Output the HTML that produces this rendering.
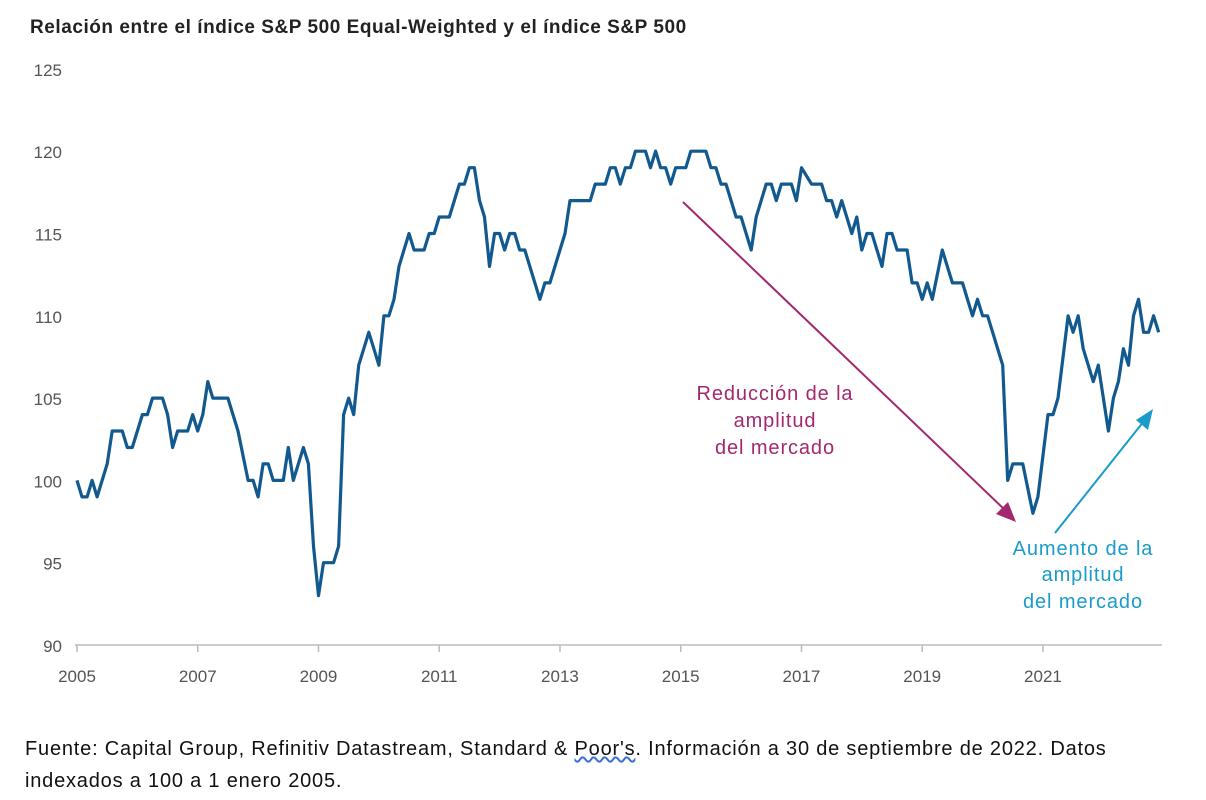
<!DOCTYPE html>
<html><head><meta charset="utf-8"><style>
body{margin:0;background:#fff;width:1206px;height:800px;overflow:hidden;font-family:"Liberation Sans",sans-serif}
.t{position:absolute}
</style></head><body>
<div class="t" style="left:30px;top:17px;font-size:19px;letter-spacing:0.55px;font-weight:bold;color:#222">Relación entre el índice S&amp;P 500 Equal-Weighted y el índice S&amp;P 500</div>
<svg class="t" style="left:0;top:0" width="1206" height="720">
<g id="axes"></g>
<path id="line" fill="none" stroke="#12598f" stroke-width="3.2" stroke-linejoin="round"/>
<g font-size="20" letter-spacing="0.9">
<line x1="683" y1="202" x2="1005" y2="510" stroke="#a3286e" stroke-width="2"/>
<polygon points="1016,522 996,514 1008,502" fill="#a3286e"/>
<text x="775" y="400" text-anchor="middle" fill="#a3286e">Reducción de la</text>
<text x="775" y="427" text-anchor="middle" fill="#a3286e">amplitud</text>
<text x="775" y="454" text-anchor="middle" fill="#a3286e">del mercado</text>
</g>
<g font-size="20" letter-spacing="0.9">
<line x1="1055" y1="533" x2="1144" y2="421" stroke="#1a9bc9" stroke-width="2"/>
<polygon points="1153,409 1148,430 1136,420" fill="#1a9bc9"/>
<text x="1083" y="555" text-anchor="middle" fill="#1a9bc9">Aumento de la</text>
<text x="1083" y="581" text-anchor="middle" fill="#1a9bc9">amplitud</text>
<text x="1083" y="608" text-anchor="middle" fill="#1a9bc9">del mercado</text>
</g>
</svg>
<div class="t" style="left:25px;top:733px;font-size:20px;letter-spacing:0.8px;color:#111;line-height:32px;white-space:nowrap">Fuente: Capital Group, Refinitiv Datastream, Standard &amp; <span style="text-decoration:underline wavy #3b6fd6">Poor's</span>. Información a 30 de septiembre de 2022. Datos<br>indexados a 100 a 1 enero 2005.</div>
<script>
const months=[0,1,2,3,4,6,7,9,10,11,13,14,15,17,18,19,20,22,23,24,25,26,27,30,32,34,35,36,37,38,39,41,42,43,45,46,47,48,49,51,52,53,54,55,56,57,58,60,61,62,63,64,66,67,69,70,71,72,74,76,77,78,79,80,81,82,83,84,85,86,87,88,89,92,93,94,97,98,102,103,105,106,107,108,109,110,111,113,114,115,116,117,118,119,121,122,125,126,127,128,129,131,132,134,135,137,138,139,140,142,143,144,146,148,149,150,151,152,154,155,156,157,158,160,161,162,163,165,166,167,168,169,170,172,174,176,178,179,180,181,184,185,186,188,190,191,193,194,195,197,198,199,200,202,203,205,206,207,208,209,210,211,212,213,214,215];
const values=[100,99,99,100,99,101,103,103,102,102,104,104,105,105,104,102,103,103,104,103,104,106,105,105,103,100,100,99,101,101,100,100,102,100,102,101,96,93,95,95,96,104,105,104,107,108,109,107,110,110,111,113,115,114,114,115,115,116,116,118,118,119,119,117,116,113,115,115,114,115,115,114,114,111,112,112,115,117,117,118,118,119,119,118,119,119,120,120,119,120,119,119,118,119,119,120,120,119,119,118,118,116,116,114,116,118,118,117,118,118,117,119,118,118,117,117,116,117,115,116,114,115,115,113,115,115,114,114,112,112,111,112,111,114,112,112,110,111,110,110,107,100,101,101,98,99,104,104,105,110,109,110,108,106,107,103,105,106,108,107,110,111,109,109,110,109];
const yTicks=[90,95,100,105,110,115,120,125];
const xTicks=[2005,2007,2009,2011,2013,2015,2017,2019,2021];
const X=m=>77+m*5.031, XY=y=>77+(y-2005)*12*5.031, Y=v=>645-(v-90)*16.46;
const ns='http://www.w3.org/2000/svg', ax=document.getElementById('axes');
function mk(t,a,txt){const e=document.createElementNS(ns,t);for(const k in a)e.setAttribute(k,a[k]);if(txt!=null)e.textContent=txt;ax.appendChild(e);return e;}
const base=mk('line',{x1:75,y1:645,x2:1162,y2:645,stroke:'#bbb','stroke-width':1.5});


yTicks.forEach(v=>{const e=mk('text',{x:62,y:Y(v)+7,'text-anchor':'end','font-size':17,fill:'#555'},v);

});
xTicks.forEach(y=>{const t=mk('line',{x1:XY(y),y1:645,x2:XY(y),y2:652,stroke:'#bbb','stroke-width':1.5});


const e=mk('text',{x:XY(y),y:682,'text-anchor':'middle','font-size':17,fill:'#555'},y);

});
document.getElementById('line').setAttribute('d',months.map((m,i)=>(i?'L':'M')+X(m).toFixed(1)+','+Y(values[i]).toFixed(1)).join(''));
</script>
</body></html>
